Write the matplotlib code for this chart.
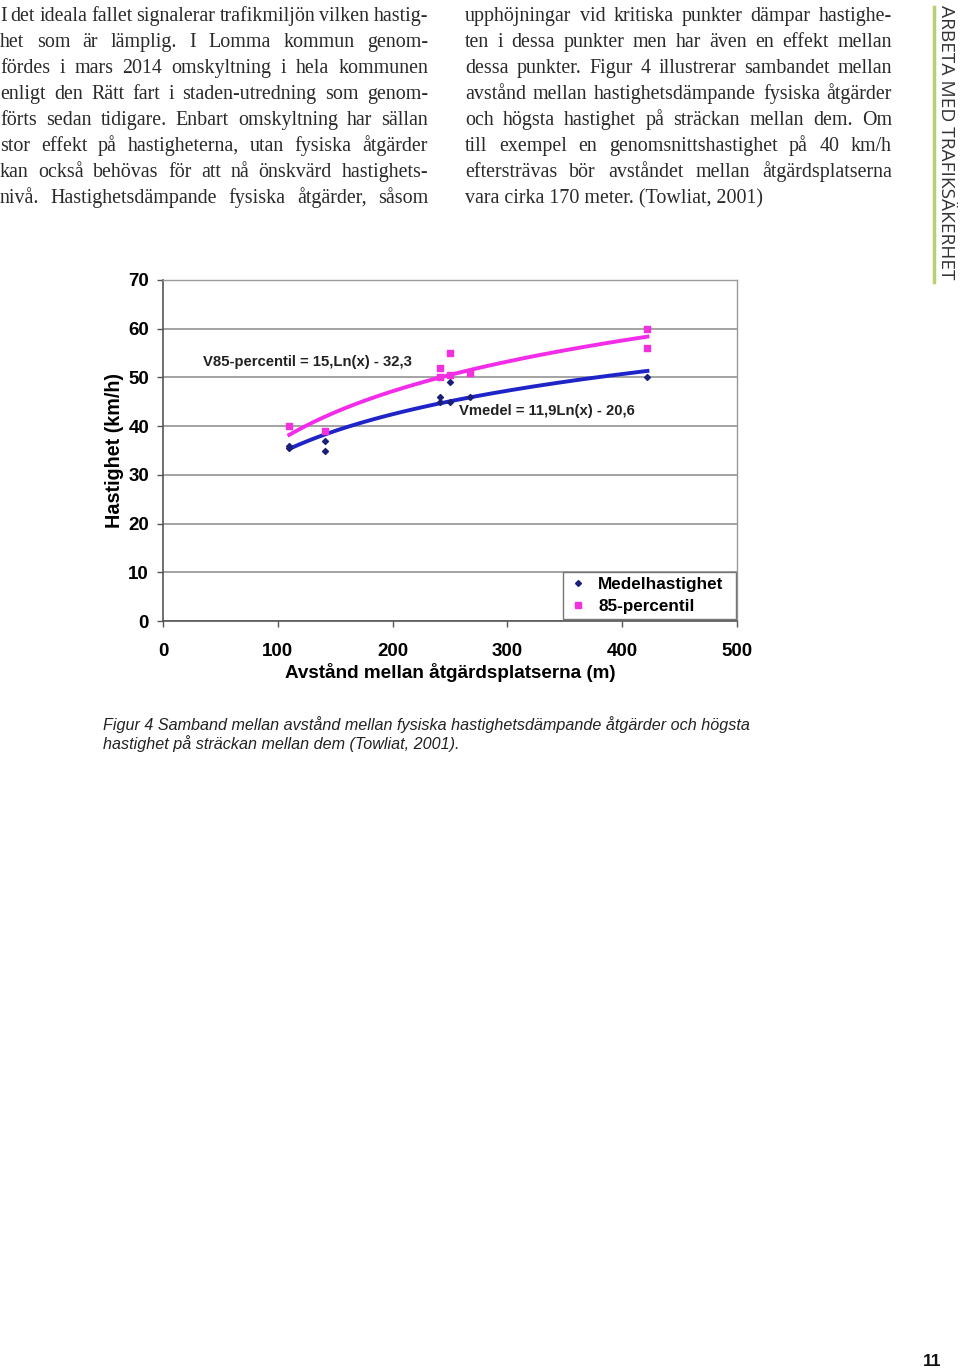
import matplotlib
matplotlib.use('Agg')
import matplotlib.pyplot as plt
from matplotlib.lines import Line2D
import numpy as np

# page text
left_lines = [
    "I det ideala fallet signalerar trafikmiljön vilken hastig-",
    "het som är lämplig. I Lomma kommun genom-",
    "fördes i mars 2014 omskyltning i hela kommunen",
    "enligt den Rätt fart i staden-utredning som genom-",
    "förts sedan tidigare. Enbart omskyltning har sällan",
    "stor effekt på hastigheterna, utan fysiska åtgärder",
    "kan också behövas för att nå önskvärd hastighets-",
    "nivå. Hastighetsdämpande fysiska åtgärder, såsom",
]
right_lines = [
    "upphöjningar vid kritiska punkter dämpar hastighe-",
    "ten i dessa punkter men har även en effekt mellan",
    "dessa punkter. Figur 4 illustrerar sambandet mellan",
    "avstånd mellan hastighetsdämpande fysiska åtgärder",
    "och högsta hastighet på sträckan mellan dem. Om",
    "till exempel en genomsnittshastighet på 40 km/h",
    "eftersträvas bör avståndet mellan åtgärdsplatserna",
    "vara cirka 170 meter. (Towliat, 2001)",
]
side_title = "ARBETA MED TRAFIKSÄKERHET"
caption = ("Figur 4 Samband mellan avstånd mellan fysiska hastighetsdämpande åtgärder och högsta\n"
           "hastighet på sträckan mellan dem (Towliat, 2001).")
page_no = "11"

# chart data
mean_x = [110, 110, 141, 141, 241, 241, 250, 250, 267, 422]
mean_y = [36, 35.5, 37, 35, 46, 45, 49, 45, 46, 50]
p85_x = [110, 141, 241, 241, 250, 250, 267, 422, 422]
p85_y = [40, 39, 52, 50, 55, 50.5, 51, 60, 56]
# trendline coefficients (a*ln(x) + b) as printed in the chart
mean_fit = (11.9, -20.6)
p85_fit = (15.0, -32.3)
fit_range = (110, 422)
x_ticks = [0, 100, 200, 300, 400, 500]
y_ticks = [0, 10, 20, 30, 40, 50, 60, 70]

W, H = 960, 1371
fig = plt.figure(figsize=(W / 100, H / 100), dpi=100)


def fx(x):
    return x / W


def fy(y):
    return 1 - y / H


renderer = fig.canvas.get_renderer()
serif = dict(family='Liberation Serif', fontsize=14.4, color='#2a2a2a')


def justified(lines, x0, x1, y0, step, last_ragged=False):
    for i, line in enumerate(lines):
        y = fy(y0 + i * step)
        if last_ragged and i == len(lines) - 1:
            fig.text(fx(x0), y, line, va='baseline', ha='left', **serif)
            continue
        words = line.split()
        objs = [fig.text(0, y, w, va='baseline', ha='left', **serif) for w in words]
        widths = [o.get_window_extent(renderer).width for o in objs]
        gap = (x1 - x0 - sum(widths)) / (len(words) - 1)
        pos = x0
        for o, w in zip(objs, widths):
            o.set_x(fx(pos))
            pos += w + gap


justified(left_lines, 0, 428, 21, 26)
justified(right_lines, 465, 892, 21, 26, last_ragged=True)

# side title and green rule
fig.add_artist(Line2D([fx(934), fx(934)], [fy(7), fy(282)], color='#b9d074', lw=2.5))
fig.text(fx(946), fy(5), side_title, rotation=-90, ha='center', va='top',
         family='Open Sans', fontsize=13.8, color='#333333')
fig.text(fx(932), fy(1361), page_no, ha='center', va='center',
         family='Liberation Sans', fontweight='bold', fontsize=12.5, color='#111111')

# chart
ax = fig.add_axes([fx(163), fy(621), fx(737) - fx(163), fy(280) - fy(621)])
ax.set_xlim(0, 500)
ax.set_ylim(0, 70)
ax.set_xticks(x_ticks)
ax.set_yticks(y_ticks)
ax.grid(axis='y', color='#8a8a8a', lw=1.1)
ax.set_axisbelow(True)
for side in ['top', 'right']:
    ax.spines[side].set_color('#9a9a9a')
    ax.spines[side].set_linewidth(1.0)
for side in ['left', 'bottom']:
    ax.spines[side].set_color('#555555')
    ax.spines[side].set_linewidth(1.2)

tick_font = dict(family='Liberation Sans', fontweight='bold', fontsize=13.5)
ax.tick_params(direction='out', length=4, width=1, color='#555555')
ax.set_xticklabels([str(t) for t in x_ticks], **tick_font)
ax.set_yticklabels([str(t) for t in y_ticks], **tick_font)
ax.tick_params(axis='y', pad=6)
ax.tick_params(axis='x', pad=12)

ax.set_xlabel("Avstånd mellan åtgärdsplatserna (m)", family='Liberation Sans',
              fontweight='bold', fontsize=13.6, labelpad=2)
ax.set_ylabel("Hastighet (km/h)", family='Liberation Sans',
              fontweight='bold', fontsize=14.2)
ax.yaxis.set_label_coords((124 - 163) / 574, 0.5)

xs = np.linspace(fit_range[0], fit_range[1], 200)
ax.plot(xs, p85_fit[0] * np.log(xs) + p85_fit[1], color='#f22ce8', lw=2.8)
ax.plot(xs, mean_fit[0] * np.log(xs) + mean_fit[1], color='#1f24c8', lw=2.8)
ax.scatter(mean_x, mean_y, marker='D', s=9, color='#1a1f7a', zorder=3)
ax.scatter(p85_x, p85_y, marker='s', s=18, color='#f230e0', zorder=3)

ann = dict(family='Liberation Sans', fontweight='bold', fontsize=10.7, color='#222222')
ax.text(35, 53.2, "V85-percentil = 15,Ln(x) - 32,3", ha='left', va='center', **ann)
ax.text(258, 43.1, "Vmedel = 11,9Ln(x) - 20,6", ha='left', va='center', **ann)

handles = [Line2D([], [], ls='', marker='D', ms=3, color='#1a1f7a'),
           Line2D([], [], ls='', marker='s', ms=4, color='#f230e0')]
leg = ax.legend(handles, ["Medelhastighet", "85-percentil"], loc='lower left',
                bbox_to_anchor=((563 - 163) / 574, 0.006, 173 / 574, 0.1),
                mode='expand', borderaxespad=0, frameon=True,
                fancybox=False, edgecolor='#777777', framealpha=1,
                prop=dict(family='Liberation Sans', weight='bold', size=12.3),
                handlelength=1.2, handletextpad=0.55, labelspacing=0.4,
                borderpad=0.3)
leg.get_frame().set_linewidth(1.0)

fig.text(fx(103), fy(734), caption, ha='left', va='center', style='italic',
         family='Liberation Sans', fontsize=11.6, color='#222222', linespacing=1.2)

fig.savefig('out.png', dpi=100)
